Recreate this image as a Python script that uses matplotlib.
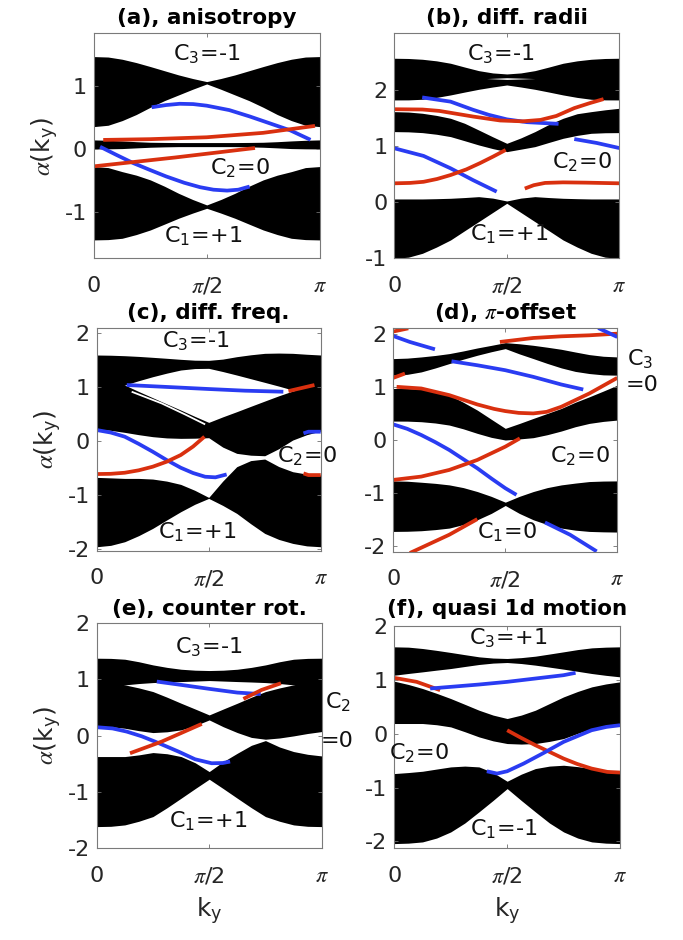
import numpy as np
import matplotlib
matplotlib.use('Agg')
import matplotlib.pyplot as plt

plt.rcParams['font.family'] = ['DejaVu Sans']
plt.rcParams['mathtext.fontset'] = 'stix'
plt.rcParams['axes.unicode_minus'] = False

BLUE = '#2a3cf2'
RED = '#d9300f'

# k grid for the band edges, in units of pi (steps of pi/16)
kgrid = [0, 0.0625, 0.125, 0.1875, 0.25, 0.3125, 0.375, 0.4375, 0.5,
         0.5625, 0.625, 0.6875, 0.75, 0.8125, 0.875, 0.9375, 1.0]

# ---- (a) anisotropy
a_b3_hi = [1.467, 1.460, 1.425, 1.372, 1.309, 1.243, 1.177, 1.120, 1.071,
           1.120, 1.177, 1.243, 1.309, 1.372, 1.425, 1.460, 1.467]
a_b3_lo = [0.359, 0.380, 0.454, 0.550, 0.665, 0.770, 0.860, 0.950, 1.034,
           0.950, 0.860, 0.770, 0.665, 0.550, 0.454, 0.380, 0.359]
a_b2_hi = [0.148, 0.142, 0.132, 0.120, 0.111, 0.108, 0.106, 0.106, 0.106,
           0.106, 0.106, 0.108, 0.111, 0.120, 0.132, 0.142, 0.148]
a_b2_lo = [0.005, 0.007, 0.011, 0.022, 0.032, 0.038, 0.042, 0.042, 0.042,
           0.042, 0.042, 0.038, 0.032, 0.022, 0.011, 0.007, 0.005]
a_b1_hi = [-0.274, -0.290, -0.354, -0.410, -0.485, -0.585, -0.697, -0.795, -0.881,
           -0.795, -0.697, -0.585, -0.485, -0.410, -0.354, -0.290, -0.274]
a_b1_lo = [-1.435, -1.430, -1.409, -1.350, -1.277, -1.185, -1.092, -1.010, -0.934,
           -1.010, -1.092, -1.185, -1.277, -1.350, -1.409, -1.430, -1.435]
a_blue1_k = [0.256, 0.32, 0.38, 0.44, 0.5, 0.6, 0.69, 0.78, 0.87, 0.96]
a_blue1 = [0.665, 0.70, 0.72, 0.715, 0.69, 0.62, 0.52, 0.41, 0.30, 0.15]
a_red1_k = [0.041, 0.25, 0.5, 0.75, 0.98]
a_red1 = [0.148, 0.16, 0.19, 0.26, 0.37]
a_blue2_k = [0.027, 0.1, 0.175, 0.25, 0.32, 0.4, 0.47, 0.53, 0.59, 0.64, 0.69]
a_blue2 = [0.04, -0.09, -0.22, -0.33, -0.43, -0.53, -0.60, -0.64, -0.654, -0.64, -0.59]
a_red2_k = [0.0, 0.36, 0.714]
a_red2 = [-0.27, -0.13, 0.02]

# ---- (b) diff. radii
b_b3_hi = [2.556, 2.552, 2.538, 2.510, 2.467, 2.400, 2.336, 2.295, 2.277,
           2.295, 2.336, 2.400, 2.467, 2.510, 2.538, 2.552, 2.556]
b_b3_lo = [1.815, 1.816, 1.827, 1.860, 1.904, 1.955, 2.004, 2.045, 2.081,
           2.045, 2.004, 1.955, 1.904, 1.860, 1.827, 1.816, 1.815]
b_b2_hi = [1.607, 1.600, 1.578, 1.540, 1.489, 1.400, 1.281, 1.160, 1.044,
           1.140, 1.252, 1.380, 1.489, 1.570, 1.607, 1.640, 1.667]
b_b2_lo = [1.252, 1.248, 1.234, 1.205, 1.163, 1.090, 1.015, 0.950, 0.896,
           0.940, 0.985, 1.060, 1.133, 1.185, 1.222, 1.232, 1.234]
b_b1_hi = [0.055, 0.055, 0.055, 0.060, 0.067, 0.080, 0.096, 0.070, 0.019,
           0.070, 0.096, 0.080, 0.067, 0.060, 0.055, 0.055, 0.055]
b_b1_lo = [-1.0, -0.980, -0.911, -0.800, -0.674, -0.510, -0.348, -0.185, -0.022,
           -0.185, -0.348, -0.510, -0.674, -0.800, -0.911, -0.980, -1.0]
b_gap_k = [0.41, 0.5, 0.625]
b_gap_hi = [2.195, 2.21, 2.195]
b_gap_lo = [2.195, 2.18, 2.195]
b_blue1_k = [0.124, 0.25, 0.35, 0.42, 0.5, 0.59, 0.73]
b_blue1 = [1.86, 1.785, 1.64, 1.55, 1.47, 1.42, 1.39]
b_red1_k = [0.0, 0.125, 0.2, 0.35, 0.47, 0.57, 0.65, 0.72, 0.8, 0.87, 0.93]
b_red1 = [1.65, 1.645, 1.62, 1.52, 1.45, 1.435, 1.46, 1.53, 1.67, 1.76, 1.83]
b_blue2_k = [0.0, 0.13, 0.25, 0.35, 0.455]
b_blue2 = [0.956, 0.82, 0.60, 0.39, 0.185]
b_red2_k = [0.0, 0.07, 0.13, 0.19, 0.25, 0.32, 0.38, 0.44, 0.495]
b_red2 = [0.333, 0.34, 0.36, 0.41, 0.48, 0.58, 0.69, 0.81, 0.926]
b_red3_k = [0.58, 0.62, 0.67, 0.75, 0.85, 1.0]
b_red3 = [0.24, 0.30, 0.34, 0.35, 0.345, 0.333]
b_blue3_k = [0.80, 0.9, 1.0]
b_blue3 = [1.12, 1.05, 0.96]

# ---- (c) diff. freq.
c_b3_hi = [1.586, 1.582, 1.573, 1.560, 1.543, 1.525, 1.506, 1.490, 1.487,
           1.510, 1.555, 1.590, 1.617, 1.622, 1.617, 1.600, 1.586]
c_b3_lo = [0.598, 0.800, 1.030, 1.110, 1.184, 1.250, 1.308, 1.335, 1.339,
           1.280, 1.215, 1.147, 1.079, 1.010, 0.937, 0.800, 0.598]
c_b2_hi = [1.030, 1.030, 1.030, 0.910, 0.795, 0.680, 0.567, 0.450, 0.338,
           0.440, 0.536, 0.635, 0.733, 0.830, 0.919, 0.980, 1.030]
c_b2_lo = [0.215, 0.190, 0.153, 0.110, 0.073, 0.050, 0.042, 0.045, 0.054,
           -0.120, -0.236, -0.270, -0.280, -0.150, 0.011, 0.110, 0.178]
c_b1_hi = [-0.681, -0.690, -0.700, -0.700, -0.712, -0.750, -0.811, -0.920, -1.052,
           -0.750, -0.483, -0.370, -0.341, -0.480, -0.576, -0.620, -0.638]
c_b1_lo = [-1.966, -1.940, -1.873, -1.760, -1.626, -1.470, -1.317, -1.180, -1.070,
           -1.200, -1.348, -1.540, -1.719, -1.830, -1.904, -1.950, -1.966]
c_sliver_k = [0.156, 0.29, 0.394, 0.484]
c_sliver = [0.906, 0.690, 0.486, 0.301]
c_blue1_k = [0.134, 0.29, 0.5, 0.662, 0.833]
c_blue1 = [1.030, 0.999, 0.956, 0.925, 0.906]
c_red1_k = [0.856, 0.972]
c_red1 = [0.918, 1.030]
c_blue2_k = [0.0, 0.0625, 0.125, 0.1875, 0.25, 0.3125, 0.375, 0.43, 0.484, 0.53, 0.58]
c_blue2 = [0.196, 0.15, 0.073, -0.06, -0.205, -0.36, -0.502, -0.60, -0.669, -0.68, -0.626]
c_red2_k = [0.0, 0.0625, 0.125, 0.1875, 0.25, 0.3125, 0.375, 0.43, 0.481]
c_red2 = [-0.619, -0.615, -0.595, -0.55, -0.483, -0.39, -0.267, -0.11, 0.073]
c_blue3_k = [0.923, 0.945, 1.0]
c_blue3 = [0.134, 0.165, 0.165]
c_red3_k = [0.923, 0.945, 1.0]
c_red3 = [-0.607, -0.638, -0.638]

# ---- (d) pi-offset
d_b3_hi = [1.531, 1.540, 1.5625, 1.590, 1.625, 1.675, 1.731, 1.780, 1.831,
           1.810, 1.781, 1.745, 1.706, 1.655, 1.606, 1.575, 1.5625]
d_b3_lo = [1.219, 1.235, 1.281, 1.355, 1.4375, 1.520, 1.594, 1.660, 1.719,
           1.620, 1.531, 1.440, 1.356, 1.290, 1.250, 1.225, 1.219]
d_b2_hi = [0.969, 0.968, 0.956, 0.920, 0.844, 0.710, 0.5625, 0.390, 0.219,
           0.310, 0.406, 0.500, 0.594, 0.710, 0.8125, 0.920, 1.031]
d_b2_lo = [0.356, 0.355, 0.344, 0.320, 0.281, 0.210, 0.125, 0.050, 0.0,
           0.020, 0.044, 0.100, 0.169, 0.250, 0.3125, 0.350, 0.375]
d_b1_hi = [-0.769, -0.775, -0.794, -0.815, -0.844, -0.895, -0.969, -1.060, -1.169,
           -1.060, -0.969, -0.895, -0.844, -0.810, -0.781, -0.772, -0.769]
d_b1_lo = [-1.719, -1.716, -1.706, -1.685, -1.656, -1.590, -1.5, -1.380, -1.231,
           -1.380, -1.5, -1.590, -1.656, -1.695, -1.719, -1.727, -1.731]
d_red_a_k = [0.0, 0.067]
d_red_a = [2.04, 2.10]
d_blue_a_k = [0.0, 0.074, 0.186]
d_blue_a = [1.956, 1.844, 1.706]
d_red_b_k = [0.0, 0.052]
d_red_b = [1.169, 1.25]
d_blue_b_k = [0.26, 0.375, 0.5, 0.625, 0.75, 0.848]
d_blue_b = [1.481, 1.406, 1.3125, 1.1875, 1.044, 0.95]
d_red_c_k = [0.476, 0.625, 0.75, 0.875, 1.0]
d_red_c = [1.844, 1.919, 1.95, 1.969, 2.0]
d_blue_c_k = [0.915, 1.0]
d_blue_c = [2.106, 1.9375]
d_red_d_k = [0.015, 0.125, 0.25, 0.375, 0.45, 0.5, 0.56, 0.625, 0.685, 0.75, 0.875, 1.0]
d_red_d = [1.0, 0.969, 0.844, 0.669, 0.585, 0.544, 0.51, 0.5, 0.53, 0.625, 0.875, 1.169]
d_blue_d_k = [0.0, 0.0625, 0.125, 0.1875, 0.25, 0.3125, 0.375, 0.44, 0.5, 0.55]
d_blue_d = [0.294, 0.21, 0.094, -0.04, -0.1875, -0.36, -0.531, -0.73, -0.906, -1.031]
d_red_e_k = [0.0, 0.125, 0.25, 0.375, 0.5, 0.565]
d_red_e = [-0.75, -0.6875, -0.5625, -0.375, -0.125, 0.031]
d_red_f_k = [0.074, 0.25, 0.375]
d_red_f = [-2.125, -1.781, -1.4875]
d_blue_f_k = [0.677, 0.789, 0.908]
d_blue_f = [-1.55, -1.781, -2.094]

# ---- (e) counter rot.
e_b3_hi = [1.378, 1.375, 1.360, 1.315, 1.259, 1.215, 1.182, 1.165, 1.159,
           1.165, 1.182, 1.215, 1.259, 1.315, 1.360, 1.375, 1.378]
e_b3_lo = [0.696, 0.800, 0.904, 0.928, 0.945, 0.955, 0.963, 0.972, 0.981,
           0.972, 0.963, 0.955, 0.945, 0.928, 0.904, 0.800, 0.696]
e_b2_hi = [0.904, 0.904, 0.904, 0.850, 0.785, 0.685, 0.578, 0.475, 0.370,
           0.475, 0.578, 0.685, 0.785, 0.850, 0.904, 0.904, 0.904]
e_b2_lo = [0.175, 0.160, 0.133, 0.090, 0.056, 0.070, 0.104, 0.180, 0.281,
           0.160, 0.056, -0.030, -0.062, -0.040, -0.003, 0.040, 0.074]
e_b1_hi = [-0.370, -0.370, -0.370, -0.340, -0.299, -0.320, -0.370, -0.480, -0.637,
           -0.460, -0.311, -0.170, -0.086, -0.200, -0.281, -0.330, -0.359]
e_b1_lo = [-1.615, -1.610, -1.585, -1.520, -1.437, -1.280, -1.111, -0.940, -0.773,
           -0.940, -1.111, -1.280, -1.437, -1.520, -1.585, -1.610, -1.615]
e_blue1_k = [0.267, 0.375, 0.501, 0.625, 0.729]
e_blue1 = [0.963, 0.904, 0.833, 0.767, 0.741]
e_red1_k = [0.652, 0.733, 0.819]
e_red1 = [0.655, 0.815, 0.933]
e_blue2_k = [0.0, 0.07, 0.133, 0.2, 0.259, 0.31, 0.363, 0.437, 0.511, 0.56, 0.593]
e_blue2 = [0.151, 0.13, 0.074, -0.01, -0.104, -0.19, -0.281, -0.418, -0.489, -0.485, -0.459]
e_red2_k = [0.148, 0.289, 0.467]
e_red2 = [-0.311, -0.104, 0.210]

# ---- (f) quasi 1d motion
f_b3_hi = [1.621, 1.615, 1.590, 1.555, 1.516, 1.475, 1.435, 1.412, 1.404,
           1.420, 1.447, 1.487, 1.528, 1.570, 1.602, 1.615, 1.621]
f_b3_lo = [1.093, 1.125, 1.155, 1.187, 1.217, 1.255, 1.292, 1.318, 1.329,
           1.310, 1.280, 1.243, 1.205, 1.165, 1.124, 1.090, 1.062]
f_b2_hi = [0.981, 0.920, 0.845, 0.755, 0.658, 0.550, 0.441, 0.350, 0.286,
           0.350, 0.441, 0.565, 0.689, 0.790, 0.876, 0.930, 0.969]
f_b2_lo = [0.193, 0.193, 0.193, 0.170, 0.130, 0.040, -0.056, -0.130, -0.180,
           -0.190, -0.180, -0.140, -0.087, 0.010, 0.099, 0.160, 0.193]
f_b1_hi = [-0.739, -0.720, -0.696, -0.655, -0.615, -0.600, -0.615, -0.720, -0.882,
           -0.750, -0.646, -0.600, -0.584, -0.610, -0.646, -0.690, -0.720]
f_b1_lo = [-2.043, -2.035, -2.012, -1.940, -1.826, -1.660, -1.453, -1.240, -1.019,
           -1.240, -1.453, -1.660, -1.826, -1.940, -2.012, -2.035, -2.043]
f_red1_k = [0.0, 0.099, 0.203]
f_red1 = [1.043, 0.969, 0.814]
f_blue1_k = [0.159, 0.25, 0.375, 0.5, 0.625, 0.75, 0.803]
f_blue1 = [0.845, 0.876, 0.919, 0.969, 1.031, 1.093, 1.137]
f_red2_k = [0.5, 0.56, 0.625, 0.69, 0.75, 0.81, 0.874, 0.944, 1.0]
f_red2 = [0.068, -0.07, -0.211, -0.34, -0.460, -0.56, -0.646, -0.708, -0.720]
f_blue2_k = [0.410, 0.455, 0.5, 0.573, 0.662, 0.75, 0.874, 0.94, 1.0]
f_blue2 = [-0.696, -0.739, -0.696, -0.553, -0.354, -0.149, 0.068, 0.13, 0.161]


def pik(v):
    return np.pi * np.asarray(v)


def panel(rect, title, ylim, yticks, bands, lines, texts, pad=7,
          gaps=(), ylabel=False, xlabel=False):
    ax = fig.add_axes(rect)
    k = pik(kgrid)
    for lo, hi in bands:
        ax.fill_between(k, lo, hi, color='black', lw=0)
    for gk, glo, ghi in gaps:
        ax.fill_between(pik(gk), glo, ghi, color='white', lw=0)
    for lk, lv, col, lw in lines:
        ax.plot(pik(lk), lv, color=col, lw=lw, solid_capstyle='butt',
                solid_joinstyle='round')
    for x, y, s in texts:
        ax.text(np.pi * x, y, s, ha='center', va='baseline', fontsize=16,
                color='#111111', clip_on=False)
    ax.set_xlim(0, np.pi)
    ax.set_ylim(*ylim)
    ax.set_xticks([0, np.pi / 2, np.pi])
    ax.set_xticklabels(['0', r'$\pi$/2', r'$\pi$'])
    ax.set_yticks(yticks)
    ax.set_yticklabels([str(t) for t in yticks])
    ax.tick_params(direction='in', length=3, width=0.6, color='#6e6e6e',
                   labelsize=16, labelcolor='#262626',
                   top=True, right=True)
    ax.tick_params(axis='x', pad=12.5)
    ax.tick_params(axis='y', pad=5)
    for s in ax.spines.values():
        s.set_color('#7a7a7a')
        s.set_linewidth(0.8)
    ax.set_title(title, fontsize=15.5, fontweight='bold', pad=pad)
    if ylabel:
        ax.set_ylabel(r'$\alpha$(k$_\mathregular{y}$)', fontsize=18,
                      color='#262626')
        ax.yaxis.set_label_coords(-0.15, 0.5)
    if xlabel:
        ax.set_xlabel(r'k$_\mathregular{y}$', fontsize=18, color='#262626',
                      labelpad=6)
    return ax


fig = plt.figure(figsize=(6.83, 9.40), dpi=100)
LW = 2.7

panel([0.1376, 0.7252, 0.3302, 0.2394], '(a), anisotropy', (-1.726, 1.836),
      [-1, 0, 1],
      [(a_b1_lo, a_b1_hi), (a_b2_lo, a_b2_hi), (a_b3_lo, a_b3_hi)],
      [(a_blue1_k, a_blue1, BLUE, LW), (a_blue2_k, a_blue2, BLUE, LW),
       (a_red1_k, a_red1, RED, LW), (a_red2_k, a_red2, RED, LW)],
      [(0.5, 1.414, r'C$_\mathregular{3}$=-1'),
       (0.648, -0.39, r'C$_\mathregular{2}$=0'),
       (0.485, -1.46, r'C$_\mathregular{1}$=+1')],
      ylabel=True)

panel([0.5773, 0.7252, 0.3294, 0.2394], '(b), diff. radii', (-1, 3),
      [-1, 0, 1, 2],
      [(b_b1_lo, b_b1_hi), (b_b2_lo, b_b2_hi), (b_b3_lo, b_b3_hi)],
      [(b_blue1_k, b_blue1, BLUE, LW), (b_red1_k, b_red1, RED, LW),
       (b_blue2_k, b_blue2, BLUE, LW), (b_red2_k, b_red2, RED, LW),
       (b_red3_k, b_red3, RED, LW), (b_blue3_k, b_blue3, BLUE, LW)],
      [(0.473, 2.526, r'C$_\mathregular{3}$=-1'),
       (0.833, 0.6, r'C$_\mathregular{2}$=0'),
       (0.51, -0.674, r'C$_\mathregular{1}$=+1')],
      gaps=[(b_gap_k, b_gap_lo, b_gap_hi)])

panel([0.1416, 0.4141, 0.3280, 0.2366], '(c), diff. freq.',
      (-2.04, 2.08), [-2, -1, 0, 1, 2],
      [(c_b1_lo, c_b1_hi), (c_b2_lo, c_b2_hi), (c_b3_lo, c_b3_hi)],
      [(c_sliver_k, c_sliver, 'white', 1.3),
       (c_blue1_k, c_blue1, BLUE, LW), (c_red1_k, c_red1, RED, LW),
       (c_blue2_k, c_blue2, BLUE, LW), (c_red2_k, c_red2, RED, LW),
       (c_blue3_k, c_blue3, BLUE, LW), (c_red3_k, c_red3, RED, LW)],
      [(0.442, 1.74, r'C$_\mathregular{3}$=-1'),
       (0.9375, -0.39, r'C$_\mathregular{2}$=0'),
       (0.446, -1.81, r'C$_\mathregular{1}$=+1')],
      ylabel=True)

panel([0.5758, 0.4131, 0.3280, 0.2376], r'(d), $\pi$-offset', (-2.1, 2.1),
      [-2, -1, 0, 1, 2],
      [(d_b1_lo, d_b1_hi), (d_b2_lo, d_b2_hi), (d_b3_lo, d_b3_hi)],
      [(d_red_a_k, d_red_a, RED, LW), (d_blue_a_k, d_blue_a, BLUE, LW),
       (d_red_b_k, d_red_b, RED, LW), (d_blue_b_k, d_blue_b, BLUE, LW),
       (d_red_c_k, d_red_c, RED, LW), (d_blue_c_k, d_blue_c, BLUE, LW),
       (d_red_d_k, d_red_d, RED, LW), (d_blue_d_k, d_blue_d, BLUE, LW),
       (d_red_e_k, d_red_e, RED, LW), (d_red_f_k, d_red_f, RED, LW),
       (d_blue_f_k, d_blue_f, BLUE, LW)],
      [(0.833, -0.406, r'C$_\mathregular{2}$=0'),
       (0.509, -1.844, r'C$_\mathregular{1}$=0'),
       (1.101, 1.406, r'C$_\mathregular{3}$'),
       (1.11, 0.919, '=0')])

panel([0.1416, 0.0976, 0.3294, 0.2394], '(e), counter rot.', (-2, 2),
      [-2, -1, 0, 1, 2],
      [(e_b1_lo, e_b1_hi), (e_b2_lo, e_b2_hi), (e_b3_lo, e_b3_hi)],
      [(e_blue1_k, e_blue1, BLUE, LW), (e_red1_k, e_red1, RED, LW),
       (e_blue2_k, e_blue2, BLUE, LW), (e_red2_k, e_red2, RED, LW)],
      [(0.5, 1.467, r'C$_\mathregular{3}$=-1'),
       (0.496, -1.615, r'C$_\mathregular{1}$=+1'),
       (1.072, 0.495, r'C$_\mathregular{2}$'),
       (1.07, -0.199, '=0')],
      pad=6, ylabel=True, xlabel=True)

panel([0.5773, 0.0976, 0.3305, 0.2365], '(f), quasi 1d motion',
      (-2.13, 2.01), [-2, -1, 0, 1, 2],
      [(f_b1_lo, f_b1_hi), (f_b2_lo, f_b2_hi), (f_b3_lo, f_b3_hi)],
      [(f_red1_k, f_red1, RED, LW), (f_blue1_k, f_blue1, BLUE, LW),
       (f_red2_k, f_red2, RED, LW), (f_blue2_k, f_blue2, BLUE, LW)],
      [(0.502, 1.683, r'C$_\mathregular{3}$=+1'),
       (0.111, -0.46, r'C$_\mathregular{2}$=0'),
       (0.487, -1.888, r'C$_\mathregular{1}$=-1')],
      pad=8, xlabel=True)

fig.savefig('out.png', dpi=100)
